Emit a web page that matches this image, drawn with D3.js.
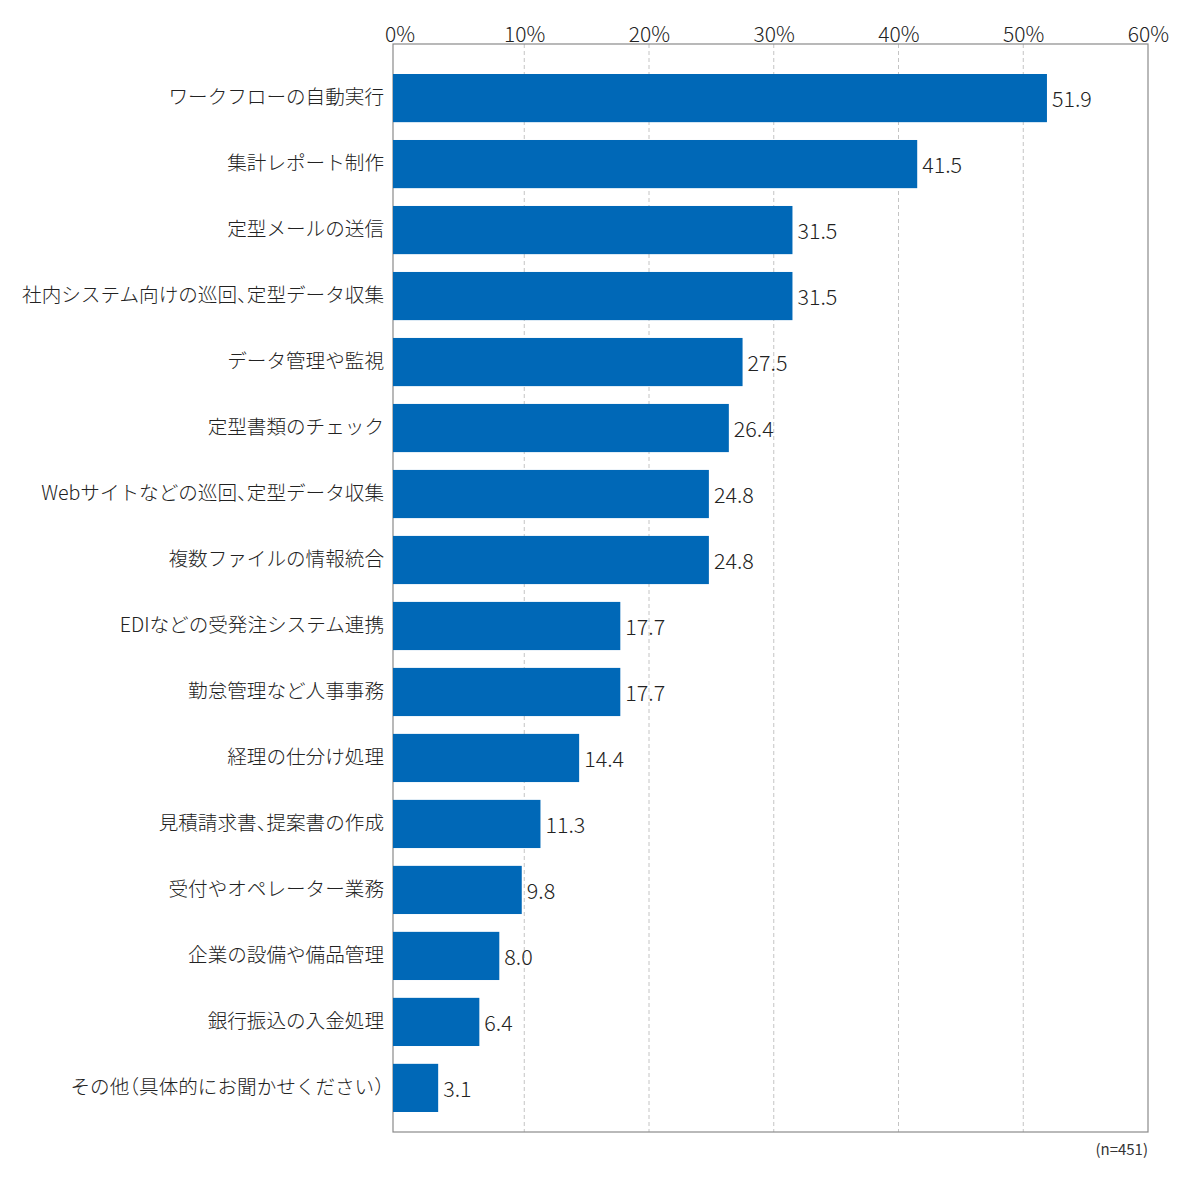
<!DOCTYPE html>
<html>
<head>
<meta charset="utf-8">
<script src="https://cdn.jsdelivr.net/npm/d3@7"></script>
<style>
  body { margin: 0; background: #fff; }
  svg { font-family: "Noto Sans CJK JP", "Noto Sans", sans-serif; }
  .cat text { font-feature-settings: "halt"; }
</style>
</head>
<body>
<div id="chart"></div>
<script>
// data
var categories = [
  "ワークフローの自動実行",
  "集計レポート制作",
  "定型メールの送信",
  "社内システム向けの巡回、定型データ収集",
  "データ管理や監視",
  "定型書類のチェック",
  "Webサイトなどの巡回、定型データ収集",
  "複数ファイルの情報統合",
  "EDIなどの受発注システム連携",
  "勤怠管理など人事事務",
  "経理の仕分け処理",
  "見積請求書、提案書の作成",
  "受付やオペレーター業務",
  "企業の設備や備品管理",
  "銀行振込の入金処理",
  "その他（具体的にお聞かせください）"
];
var values = [51.9, 41.5, 31.5, 31.5, 27.5, 26.4, 24.8, 24.8, 17.7, 17.7, 14.4, 11.3, 9.8, 8.0, 6.4, 3.1];
var tickValues = [0, 10, 20, 30, 40, 50, 60];
var note = "(n=451)";

var width = 1200, height = 1200;
var plot = {left: 393, right: 1148, top: 44, bottom: 1132};

var svg = d3.select("#chart").append("svg")
            .attr("width", width)
            .attr("height", height);

var x = d3.scaleLinear().domain([0, 60]).range([399.5, plot.right]);
var y = d3.scaleBand().domain(categories).range([74, 1112]).paddingInner(0.27).paddingOuter(0);

//gridlines
svg.append("g")
   .selectAll("line")
   .data(tickValues.filter(function(d){ return d > 0 && d < 60; }))
   .join("line")
   .attr("x1", function(d){ return x(d); })
   .attr("x2", function(d){ return x(d); })
   .attr("y1", plot.top)
   .attr("y2", plot.bottom)
   .attr("stroke", "#c4c4c4")
   .attr("stroke-width", 1)
   .attr("stroke-dasharray", "4,3");

//frame
svg.append("rect")
   .attr("x", plot.left)
   .attr("y", plot.top)
   .attr("width", plot.right - plot.left)
   .attr("height", plot.bottom - plot.top)
   .attr("fill", "none")
   .attr("stroke", "#8a8a8a")
   .attr("stroke-width", 1.2);

//top axis labels
var xAxis = d3.axisTop(x)
              .tickValues(tickValues)
              .tickSize(0)
              .tickPadding(0)
              .tickFormat(function(d){ return d + "%"; });
var gx = svg.append("g")
            .attr("transform", "translate(0,42)")
            .call(xAxis);
gx.select(".domain").remove();
gx.selectAll("text")
  .attr("dy", 0)
  .attr("font-size", 21)
  .attr("font-weight", 300)
  .attr("font-family", "\"Noto Sans CJK JP\", sans-serif")
  .attr("fill", "#222");

//bars
svg.append("g")
   .selectAll("rect")
   .data(values)
   .join("rect")
   .attr("x", plot.left)
   .attr("y", function(d, i){ return y(categories[i]); })
   .attr("width", function(d){ return x(d) - plot.left; })
   .attr("height", y.bandwidth())
   .attr("fill", "#0068b7");

//value labels
svg.append("g")
   .selectAll("text")
   .data(values)
   .join("text")
   .attr("x", function(d){ return x(d) + 5; })
   .attr("y", function(d, i){ return y(categories[i]) + y.bandwidth() / 2 + 1; })
   .attr("dy", "0.36em")
   .attr("font-size", 21.5)
   .attr("font-weight", 300)
   .attr("fill", "#222")
   .text(function(d){ return d.toFixed(1); });

//category labels
var yAxis = d3.axisLeft(y).tickSize(0).tickPadding(9);
var gy = svg.append("g")
            .attr("class", "cat")
            .attr("transform", "translate(" + plot.left + ",0)")
            .call(yAxis);
gy.select(".domain").remove();
gy.selectAll("text")
  .attr("font-size", 19.6)
  .attr("font-weight", 300)
  .attr("font-family", "\"Noto Sans CJK JP\", sans-serif")
  .attr("fill", "#222");

//sample size
svg.append("text")
   .attr("x", plot.right)
   .attr("y", 1155)
   .attr("text-anchor", "end")
   .attr("font-size", 15)
   .attr("fill", "#333")
   .text(note);
</script>
</body>
</html>
